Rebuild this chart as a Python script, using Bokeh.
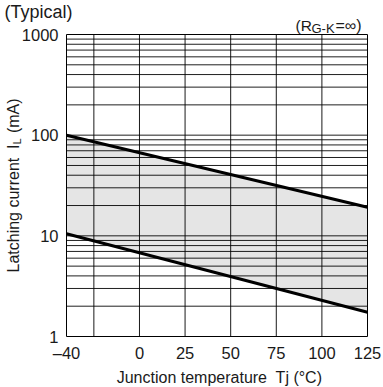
import math
from bokeh.plotting import figure
from bokeh.models import Range1d, Label
from bokeh.embed import file_html
from bokeh.resources import INLINE

# ---- data ----
temps = [-40, 125]
upper_mA = [100, 19.2]
lower_mA = [10.5, 1.74]

x_ticks = [-40, 0, 25, 50, 75, 100, 125]
x_tick_labels = ["\u201340", "0", "25", "50", "75", "100", "125"]
x_grid = [-25, 0, 25, 50, 75, 100]
y_ticks = [1, 10, 100, 1000]
y_tick_labels = ["1", "10", "100", "1000"]
y_grid = [m * 10 ** d for d in range(3) for m in range(1, 10) if not (d == 0 and m == 1)]

X_MIN, X_MAX = -40, 125
Y_MIN, Y_MAX = 1, 1000

FONT = "Liberation Sans"
TXT = "#1a1a1a"
NB = "\u00a0"  # keeps double spaces from collapsing

# ---- layout (pixels) ----
W, H = 383, 387
PL, PR, PT, PB = 66, 367, 34, 336   # plot box edges on the canvas

# the frame fills the whole canvas; ranges are widened so that the data box
# lands at the plot box, leaving room for the texts around it
kx = (X_MAX - X_MIN) / (PR - PL)
ky = (math.log10(Y_MAX) - math.log10(Y_MIN)) / (PB - PT)
x_range = Range1d(X_MIN - PL * kx, X_MAX + (W - PR) * kx)
y_range = Range1d(10 ** (math.log10(Y_MIN) - (H - PB) * ky),
                  10 ** (math.log10(Y_MAX) + PT * ky))

p = figure(width=W, height=H, output_backend="svg", toolbar_location=None,
           x_range=x_range, y_range=y_range, y_axis_type="log",
           x_axis_location=None, y_axis_location=None, min_border=0)
p.grid.visible = False
p.outline_line_color = None
p.background_fill_color = "white"
p.border_fill_color = "white"

# shaded band between the two curves
p.varea(x=temps, y1=lower_mA, y2=upper_mA, fill_color="#e5e5e5")

# grid (drawn over the band)
p.segment(x0=x_grid, y0=[Y_MIN] * len(x_grid), x1=x_grid, y1=[Y_MAX] * len(x_grid),
          line_color="black", line_width=1, line_alpha=0.9)
p.segment(x0=[X_MIN] * len(y_grid), y0=y_grid, x1=[X_MAX] * len(y_grid), y1=y_grid,
          line_color="black", line_width=1, line_alpha=0.88)

# curves
p.line(temps, upper_mA, line_color="black", line_width=3)
p.line(temps, lower_mA, line_color="black", line_width=3)

# plot box
p.quad(left=[X_MIN], right=[X_MAX], bottom=[Y_MIN], top=[Y_MAX],
       fill_color=None, line_color="black", line_width=1)


def lab(px, py, text, size, align="left", baseline="middle", angle=0.0):
    p.add_layout(Label(x=px, y=H - py, x_units="screen", y_units="screen",
                       text=text, text_font=FONT, text_font_size=size,
                       text_color=TXT, text_align=align, text_baseline=baseline,
                       angle=angle))


# tick labels, placed through the data scales
TICK = "16.5px"
for t, s in zip(x_ticks, x_tick_labels):
    p.add_layout(Label(x=t, y=H - 352, x_units="data", y_units="screen", text=s,
                       text_font=FONT, text_font_size=TICK, text_color=TXT,
                       text_align="center", text_baseline="middle"))
for t, s in zip(y_ticks, y_tick_labels):
    p.add_layout(Label(x=PL - 8, y=t, x_units="screen", y_units="data", text=s,
                       text_font=FONT, text_font_size=TICK, text_color=TXT,
                       text_align="right", text_baseline="middle"))

# notes above the chart
lab(4, 11, "(Typical)", "18px")
lab(295, 25, "(R", "15.5px")
lab(311, 28, "G-K", "13px")
lab(335, 25, "=\u221e)", "16px")

# x axis title
lab(219, 377, "Junction temperature" + NB + " Tj (\u00b0C)", "16px", align="center")

# y axis title with subscript, rotated
ang = math.pi / 2
lab(13, 272, "Latching current" + NB + " I", "16px", angle=ang)
lab(16, 144, "L", "11px", angle=ang)
lab(13, 137, NB + "(mA)", "16px", angle=ang)

open("out.html", "w").write(file_html(p, INLINE))
